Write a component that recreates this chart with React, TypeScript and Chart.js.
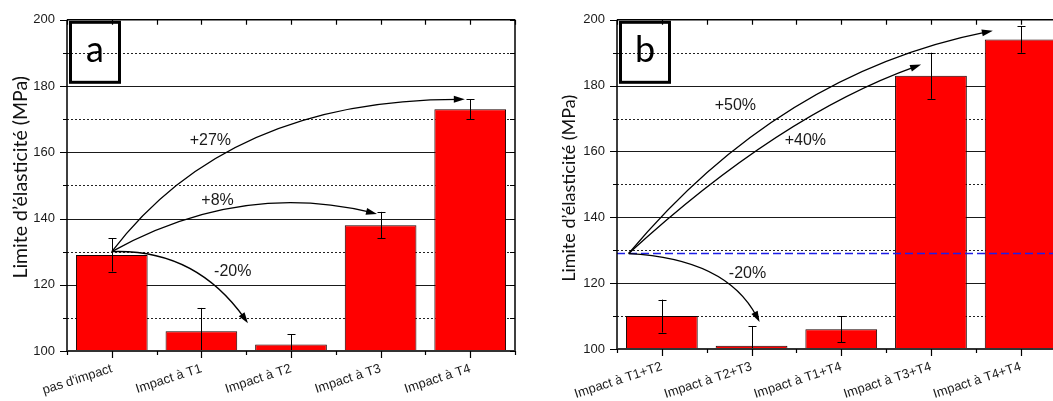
import React, { useEffect, useRef } from "react";
import { Chart, registerables } from "chart.js";
Chart.register(...registerables);

// ---------- data ----------
const catsA = ["pas d'impact", "Impact à T1", "Impact à T2", "Impact à T3", "Impact à T4"];
const valsA = [129, 106, 102, 138, 173];
const errA = [5, 7, 3, 4, 3];

const catsB = ["Impact à T1+T2", "Impact à T2+T3", "Impact à T1+T4", "Impact à T3+T4", "Impact à T4+T4"];
const valsB = [110, 101, 106, 183, 194];
const errB = [5, 6, 4, 7, 4];

const yMajor = [100, 120, 140, 160, 180, 200];
const yMinor = [110, 130, 150, 170, 190];
const refLineB = 129;

// arrows: [startIdx, startVal, ctrlIdx, ctrlVal, endIdx, endVal]
const arrowsA = [
  [0, 130, 1.29, 176, 3.94, 176],
  [0, 130, 1.43, 151.4, 2.96, 141.4],
  [0, 130, 0.93, 130.9, 1.52, 108.4],
];
const labelsA: [string, number, number][] = [
  ["+27%", 1.1, 163.4],
  ["+8%", 1.18, 145.3],
  ["-20%", 1.35, 124],
];
const arrowsB = [
  [-0.37, 129, 1.31, 183.8, 3.69, 196.7],
  [-0.37, 129, 1.31, 171, 2.89, 186.4],
  [-0.37, 129, 0.72, 127.5, 1.09, 108.2],
];
const labelsB: [string, number, number][] = [
  ["+50%", 0.82, 174],
  ["+40%", 1.6, 163.4],
  ["-20%", 0.955, 123],
];

const yTitle = "Limite d’élasticité (MPa)";
const tickFont = "Liberation Sans";

type PanelCfg = {
  cats: string[];
  vals: number[];
  errs: number[];
  arrows: number[][];
  labels: [string, number, number][];
  letter: string;
  padRight: number;
  yWidth: number;
  xHeight: number;
  titleDx: number;
  titleDy: number;
  titleSize: number;
  refLine?: number;
};

function crisp(v: number) {
  return Math.round(v) + 0.5;
}

function makeChart(canvas: HTMLCanvasElement, p: PanelCfg) {
  const deco = {
    id: "deco",
    beforeDatasetsDraw(chart: any) {
      const { ctx, chartArea: ca, scales } = chart;
      const y = scales.y;
      ctx.save();
      ctx.lineWidth = 1;
      ctx.strokeStyle = "#1a1a1a";
      for (const v of yMajor) {
        if (v <= 100 || v >= 200) continue;
        const py = crisp(y.getPixelForValue(v));
        ctx.beginPath();
        ctx.moveTo(ca.left, py);
        ctx.lineTo(ca.right, py);
        ctx.stroke();
      }
      ctx.setLineDash([2, 2]);
      ctx.strokeStyle = "#222";
      for (const v of yMinor) {
        const py = crisp(y.getPixelForValue(v));
        ctx.beginPath();
        ctx.moveTo(ca.left, py);
        ctx.lineTo(ca.right, py);
        ctx.stroke();
      }
      ctx.restore();
    },
    afterDatasetsDraw(chart: any) {
      const { ctx, chartArea: ca, scales } = chart;
      const x = scales.x;
      const y = scales.y;
      ctx.save();

      // error bars
      ctx.strokeStyle = "#000";
      ctx.lineWidth = 1;
      p.vals.forEach((v, i) => {
        const cx = crisp(x.getPixelForValue(i));
        const top = y.getPixelForValue(v + p.errs[i]);
        const bot = y.getPixelForValue(v - p.errs[i]);
        ctx.beginPath();
        ctx.moveTo(cx, top);
        ctx.lineTo(cx, Math.min(bot, ca.bottom));
        ctx.moveTo(cx - 4, crisp(top));
        ctx.lineTo(cx + 4, crisp(top));
        if (bot <= ca.bottom) {
          ctx.moveTo(cx - 4, crisp(bot));
          ctx.lineTo(cx + 4, crisp(bot));
        }
        ctx.stroke();
      });

      // reference line
      if (p.refLine !== undefined) {
        const py = y.getPixelForValue(p.refLine);
        ctx.save();
        ctx.strokeStyle = "#1f1fe8";
        ctx.lineWidth = 1.5;
        ctx.setLineDash([8, 4]);
        ctx.beginPath();
        ctx.moveTo(ca.left, py);
        ctx.lineTo(ca.right, py);
        ctx.stroke();
        ctx.restore();
      }

      // axes frame
      ctx.strokeStyle = "#000";
      ctx.lineWidth = 1.5;
      ctx.beginPath();
      ctx.moveTo(ca.left, ca.top);
      ctx.lineTo(ca.right, ca.top);
      ctx.moveTo(ca.left, ca.top);
      ctx.lineTo(ca.left, ca.bottom);
      ctx.moveTo(ca.right, ca.top);
      ctx.lineTo(ca.right, ca.bottom);
      ctx.stroke();
      ctx.strokeStyle = "#333";
      ctx.lineWidth = 2;
      ctx.beginPath();
      ctx.moveTo(ca.left - 1, ca.bottom);
      ctx.lineTo(ca.right, ca.bottom);
      ctx.stroke();

      // tick marks
      ctx.strokeStyle = "#000";
      ctx.lineWidth = 1.2;
      ctx.beginPath();
      const n = p.cats.length;
      for (let i = 0; i < n; i++) {
        const cx = crisp(x.getPixelForValue(i));
        ctx.moveTo(cx, ca.bottom);
        ctx.lineTo(cx, ca.bottom + 7);
        ctx.moveTo(cx, ca.top);
        ctx.lineTo(cx, ca.top + 5);
      }
      for (let i = 0; i <= n; i++) {
        const bx = crisp(x.getPixelForValue(i - 0.5));
        ctx.moveTo(bx, ca.bottom);
        ctx.lineTo(bx, ca.bottom + 4);
        ctx.moveTo(bx, ca.top);
        ctx.lineTo(bx, ca.top + 5);
      }
      for (const v of yMajor) {
        const py = crisp(y.getPixelForValue(v));
        ctx.moveTo(ca.left, py);
        ctx.lineTo(ca.left - 7, py);
        ctx.moveTo(ca.right, py);
        ctx.lineTo(ca.right - 5, py);
      }
      for (const v of yMinor) {
        const py = crisp(y.getPixelForValue(v));
        ctx.moveTo(ca.left, py);
        ctx.lineTo(ca.left - 4, py);
        ctx.moveTo(ca.right, py);
        ctx.lineTo(ca.right - 5, py);
      }
      ctx.stroke();

      // arrows
      ctx.strokeStyle = "#000";
      ctx.fillStyle = "#000";
      ctx.lineWidth = 1.3;
      for (const a of p.arrows) {
        const s = [x.getPixelForValue(a[0]), y.getPixelForValue(a[1])];
        const c = [x.getPixelForValue(a[2]), y.getPixelForValue(a[3])];
        const e = [x.getPixelForValue(a[4]), y.getPixelForValue(a[5])];
        const ang = Math.atan2(e[1] - c[1], e[0] - c[0]);
        const L = 11;
        const W = 3.5;
        const dx = Math.cos(ang);
        const dy = Math.sin(ang);
        ctx.beginPath();
        ctx.moveTo(s[0], s[1]);
        ctx.quadraticCurveTo(c[0], c[1], e[0] - dx * 6, e[1] - dy * 6);
        ctx.stroke();
        ctx.beginPath();
        ctx.moveTo(e[0], e[1]);
        ctx.lineTo(e[0] - L * dx - W * dy, e[1] - L * dy + W * dx);
        ctx.lineTo(e[0] - L * dx + W * dy, e[1] - L * dy - W * dx);
        ctx.closePath();
        ctx.fill();
      }

      // percentage labels
      ctx.fillStyle = "#1a1a1a";
      ctx.font = `16px '${tickFont}'`;
      ctx.textAlign = "center";
      ctx.textBaseline = "middle";
      for (const [t, li, lv] of p.labels) {
        ctx.fillText(t, x.getPixelForValue(li), y.getPixelForValue(lv));
      }

      // letter box
      ctx.strokeStyle = "#000";
      ctx.lineWidth = 3;
      const bx = ca.left + 3;
      const by = ca.top + 2;
      ctx.strokeRect(bx + 0.5, by + 0.5, 49, 60);
      ctx.fillStyle = "#000";
      ctx.font = "36px Lato";
      ctx.textAlign = "center";
      ctx.textBaseline = "middle";
      ctx.fillText(p.letter, bx + 25, by + 29);

      // y title
      ctx.save();
      ctx.translate(ca.left - p.titleDx, ca.top + p.titleDy);
      ctx.rotate(-Math.PI / 2);
      ctx.font = `${p.titleSize}px Lato`;
      ctx.fillStyle = "#111";
      ctx.textAlign = "center";
      ctx.textBaseline = "middle";
      ctx.fillText(yTitle, 0, 0);
      ctx.restore();

      ctx.restore();
    },
  };

  return new Chart(canvas, {
    type: "bar",
    data: {
      labels: p.cats,
      datasets: [
        {
          data: p.vals,
          backgroundColor: "#ff0000",
          borderColor: "#1a0000",
          borderWidth: 1,
          barPercentage: 0.8,
          categoryPercentage: 1,
        },
      ],
    },
    options: {
      animation: false,
      responsive: false,
      maintainAspectRatio: false,
      layout: { padding: { left: 0, right: p.padRight, top: 18, bottom: 0 } },
      plugins: { legend: { display: false }, tooltip: { enabled: false } },
      scales: {
        x: {
          offset: true,
          grid: { display: false, drawTicks: false },
          border: { display: false },
          ticks: {
            color: "#1a1a1a",
            font: { family: tickFont, size: 13 },
            minRotation: 18,
            maxRotation: 18,
            autoSkip: false,
            padding: 10,
          },
          afterFit: (s: any) => {
            s.height = p.xHeight;
          },
        },
        y: {
          min: 100,
          max: 200,
          grid: { display: false, drawTicks: false },
          border: { display: false },
          ticks: {
            stepSize: 20,
            color: "#1a1a1a",
            font: { family: tickFont, size: 13 },
            padding: 12,
          },
          afterFit: (s: any) => {
            s.width = p.yWidth;
          },
        },
      },
    },
    plugins: [deco],
  } as any);
}

export default function App() {
  const refA = useRef<HTMLCanvasElement>(null);
  const refB = useRef<HTMLCanvasElement>(null);
  useEffect(() => {
    const a = makeChart(refA.current!, {
      cats: catsA,
      vals: valsA,
      errs: errA,
      arrows: arrowsA,
      labels: labelsA,
      letter: "a",
      padRight: 15,
      yWidth: 67,
      xHeight: 50,
      titleDx: 46,
      titleDy: 157.5,
      titleSize: 19.5,
    });
    const b = makeChart(refB.current!, {
      cats: catsB,
      vals: valsB,
      errs: errB,
      arrows: arrowsB,
      labels: labelsB,
      letter: "b",
      padRight: 24.5,
      yWidth: 87,
      xHeight: 52,
      titleDx: 48,
      titleDy: 168.5,
      titleSize: 18,
      refLine: refLineB,
    });
    return () => {
      a.destroy();
      b.destroy();
    };
  }, []);
  return (
    <div
      style={{
        position: "absolute",
        left: 0,
        top: 0,
        width: 1053,
        height: 401,
        overflow: "hidden",
        background: "#fff",
      }}
    >
      <canvas ref={refA} width={530} height={401} style={{ position: "absolute", left: 0, top: 0 }} />
      <canvas ref={refB} width={560} height={401} style={{ position: "absolute", left: 530, top: 0 }} />
    </div>
  );
}
